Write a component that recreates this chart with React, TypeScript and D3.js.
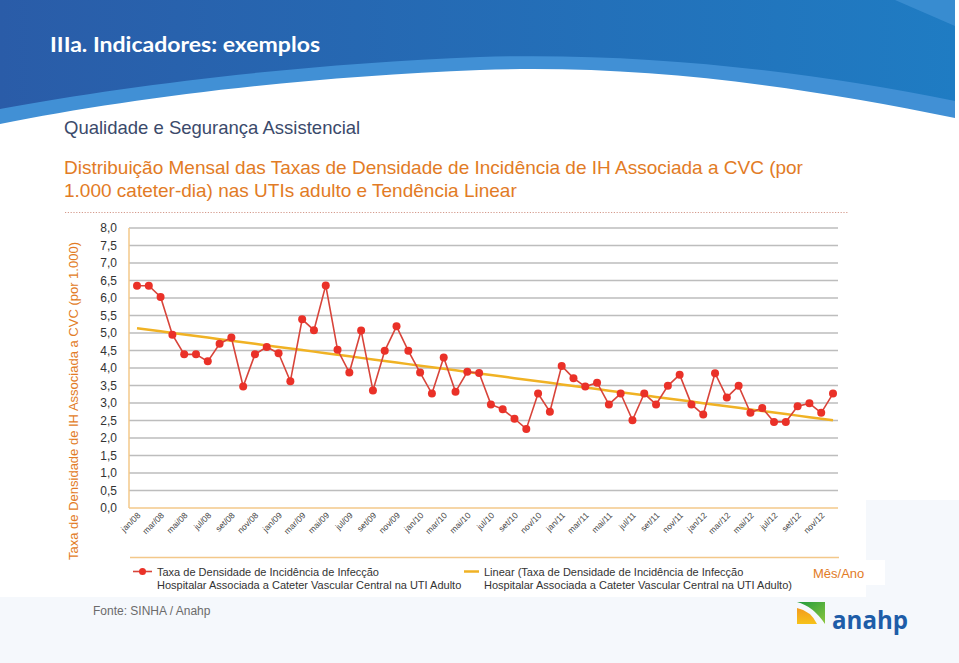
import React, { useRef, useEffect } from 'react'
import * as d3 from 'd3'

const monthNames = ['jan', 'fev', 'mar', 'abr', 'mai', 'jun', 'jul', 'ago', 'set', 'out', 'nov', 'dez']
const years = ['08', '09', '10', '11', '12']
const months: string[] = years.flatMap(y => monthNames.map(m => `${m}/${y}`))

// taxa mensal (por 1.000 cateter-dia), jan/08 .. dez/12
const rates = [
  6.35, 6.35, 6.03, 4.95, 4.39, 4.39, 4.19, 4.69, 4.87, 3.47, 4.39, 4.6,
  4.42, 3.62, 5.39, 5.08, 6.36, 4.52, 3.87, 5.07, 3.36, 4.49, 5.19, 4.49,
  3.87, 3.27, 4.3, 3.32, 3.89, 3.86, 2.96, 2.82, 2.55, 2.26, 3.27, 2.75,
  4.06, 3.71, 3.47, 3.58, 2.96, 3.27, 2.51, 3.27, 2.96, 3.49, 3.81, 2.96,
  2.67, 3.85, 3.16, 3.49, 2.72, 2.86, 2.46, 2.46, 2.91, 2.99, 2.72, 3.27
]

const yTicks = d3.range(0, 8.01, 0.5)
const xTickLabels = months.filter((_, i) => i % 2 === 0)

const seriesName = ['Taxa de Densidade de Incidência de Infecção', 'Hospitalar Associada a Cateter Vascular Central na UTI Adulto']
const trendName = ['Linear (Taxa de Densidade de Incidência de Infecção', 'Hospitalar Associada a Cateter Vascular Central na UTI Adulto)']

const W = 959
const H = 663
const SANS = '"Liberation Sans", Arial, sans-serif'
const ORANGE = '#e27b25'

const App: React.FC = () => {
  const svgRef = useRef<SVGSVGElement>(null)

  useEffect(() => {
    if (!svgRef.current) return
    const svg = d3.select(svgRef.current)
    svg.selectAll('*').remove()

    // fundo
    svg.append('rect').attr('width', W).attr('height', H).attr('fill', '#ffffff')
    svg.append('rect').attr('x', 0).attr('y', 597).attr('width', W).attr('height', H - 597).attr('fill', '#f5f8fc')
    svg.append('rect').attr('x', 866).attr('y', 500).attr('width', W - 866).attr('height', 97).attr('fill', '#f5f8fc')

    // cabeçalho azul
    const defs = svg.append('defs')
    const g1 = defs.append('linearGradient').attr('id', 'hdr').attr('x1', '0%').attr('x2', '100%')
    g1.append('stop').attr('offset', '0%').attr('stop-color', '#2a5ca8')
    g1.append('stop').attr('offset', '100%').attr('stop-color', '#1f7cc3')

    svg.append('path')
      .attr('d', 'M0,0 H955 V118 C 800,86 640,64 480,70 C 300,77 130,98 0,124 Z')
      .attr('fill', '#4190d5')
    svg.append('path')
      .attr('d', 'M0,0 H955 V101 C 800,70 640,52 480,57 C 300,64 130,85 0,109 Z')
      .attr('fill', 'url(#hdr)')
    svg.append('path')
      .attr('d', 'M895,0 L955,0 L955,26 Z')
      .attr('fill', '#4a97d8').attr('opacity', 0.6)

    svg.append('text')
      .attr('x', 50).attr('y', 52)
      .attr('font-family', 'Lato, "Open Sans", sans-serif')
      .attr('font-weight', 'bold').attr('font-size', 21)
      .attr('textLength', 270).attr('lengthAdjust', 'spacingAndGlyphs')
      .attr('fill', '#ffffff')
      .text('IIIa. Indicadores: exemplos')

    svg.append('text')
      .attr('x', 64).attr('y', 134)
      .attr('font-family', SANS).attr('font-size', 18.5)
      .attr('fill', '#3b4a6b')
      .text('Qualidade e Segurança Assistencial')

    const sub = svg.append('text')
      .attr('font-family', SANS).attr('font-size', 19)
      .attr('fill', ORANGE)
    sub.append('tspan').attr('x', 64).attr('y', 174)
      .text('Distribuição Mensal das Taxas de Densidade de Incidência de IH Associada a CVC (por')
    sub.append('tspan').attr('x', 64).attr('y', 197)
      .text('1.000 cateter-dia) nas UTIs adulto e Tendência Linear')

    svg.append('line')
      .attr('x1', 65).attr('x2', 849).attr('y1', 212.5).attr('y2', 212.5)
      .attr('stroke', '#d49a8c').attr('stroke-width', 1.2)
      .attr('stroke-dasharray', '1.2,1.6')

    // escalas
    const plotLeft = 129
    const plotRight = 838
    const x = d3.scalePoint<string>().domain(months).range([137, 833])
    const y = d3.scaleLinear().domain([0, 8]).range([508, 228])

    // grade
    svg.append('g').selectAll('line')
      .data(yTicks.filter(t => t > 0))
      .enter().append('line')
      .attr('x1', plotLeft).attr('x2', plotRight)
      .attr('y1', d => y(d)).attr('y2', d => y(d))
      .attr('stroke', '#bdbdbd').attr('stroke-width', 1.5)

    // eixos
    svg.append('line')
      .attr('x1', plotLeft).attr('x2', plotLeft).attr('y1', y(8)).attr('y2', y(0))
      .attr('stroke', '#f3c88a').attr('stroke-width', 1.5)
    svg.append('line')
      .attr('x1', plotLeft).attr('x2', plotRight).attr('y1', y(0)).attr('y2', y(0))
      .attr('stroke', '#f3c88a').attr('stroke-width', 1.5)

    svg.append('g').selectAll('text')
      .data(yTicks)
      .enter().append('text')
      .attr('x', 117).attr('y', d => y(d))
      .attr('dy', '0.36em')
      .attr('text-anchor', 'end')
      .attr('font-family', SANS).attr('font-size', 12)
      .attr('fill', '#333333')
      .text(d => d3.format('.1f')(d).replace('.', ','))

    svg.append('g').selectAll('text')
      .data(xTickLabels)
      .enter().append('text')
      .attr('transform', d => `translate(${x(d)! + 4},${516}) rotate(-45)`)
      .attr('text-anchor', 'end')
      .attr('font-family', SANS).attr('font-size', 8.5)
      .attr('fill', '#444444')
      .text(d => d)

    svg.append('text')
      .attr('transform', `translate(78,401) rotate(-90)`)
      .attr('text-anchor', 'middle')
      .attr('font-family', SANS).attr('font-size', 13)
      .attr('fill', ORANGE)
      .text('Taxa de Densidade de IH Associada a CVC (por 1.000)')

    // tendência linear (mínimos quadrados)
    const idx = rates.map((_, i) => i)
    const mx = d3.mean(idx)!
    const my = d3.mean(rates)!
    const slope = d3.sum(idx, i => (i - mx) * (rates[i] - my)) / d3.sum(idx, i => (i - mx) ** 2)
    const intercept = my - slope * mx
    const trend = idx.map(i => intercept + slope * i)

    svg.append('path')
      .datum(months)
      .attr('d', d3.line<string>().x(d => x(d)!).y((_, i) => y(trend[i])))
      .attr('fill', 'none')
      .attr('stroke', '#f0b224').attr('stroke-width', 2.5)

    // série mensal
    svg.append('path')
      .datum(rates)
      .attr('d', d3.line<number>().x((_, i) => x(months[i])!).y(d => y(d)))
      .attr('fill', 'none')
      .attr('stroke', '#d8443a').attr('stroke-width', 1.6)

    svg.append('g').selectAll('circle')
      .data(rates)
      .enter().append('circle')
      .attr('cx', (_, i) => x(months[i])!)
      .attr('cy', d => y(d))
      .attr('r', 4)
      .attr('fill', '#ea3128')

    // legenda
    svg.append('line')
      .attr('x1', 130).attr('x2', 839).attr('y1', 557.5).attr('y2', 557.5)
      .attr('stroke', '#f3c88a').attr('stroke-width', 1.5)

    svg.append('line')
      .attr('x1', 133).attr('x2', 152).attr('y1', 571.5).attr('y2', 571.5)
      .attr('stroke', '#d8443a').attr('stroke-width', 1.6)
    svg.append('circle').attr('cx', 142.5).attr('cy', 571.5).attr('r', 3.5).attr('fill', '#ea3128')

    const lg1 = svg.append('text').attr('font-family', SANS).attr('font-size', 11).attr('fill', '#333333')
    seriesName.forEach((t, i) => {
      lg1.append('tspan').attr('x', 157).attr('y', 575.5 + i * 13.5).text(t)
    })

    svg.append('line')
      .attr('x1', 464).attr('x2', 479).attr('y1', 571.5).attr('y2', 571.5)
      .attr('stroke', '#f0b224').attr('stroke-width', 2.5)
    const lg2 = svg.append('text').attr('font-family', SANS).attr('font-size', 11).attr('fill', '#333333')
    trendName.forEach((t, i) => {
      lg2.append('tspan').attr('x', 484).attr('y', 575.5 + i * 13.5).text(t)
    })

    svg.append('rect').attr('x', 795).attr('y', 560).attr('width', 90).attr('height', 25).attr('fill', '#ffffff')
    svg.append('text')
      .attr('x', 813).attr('y', 578)
      .attr('font-family', SANS).attr('font-size', 13)
      .attr('fill', ORANGE)
      .text('Mês/Ano')

    svg.append('text')
      .attr('x', 93).attr('y', 615)
      .attr('font-family', SANS).attr('font-size', 12)
      .attr('fill', '#6b6b6b')
      .text('Fonte: SINHA / Anahp')

    // logo anahp
    const lgGrad = defs.append('linearGradient').attr('id', 'lgG').attr('x1', '0%').attr('y1', '0%').attr('x2', '100%').attr('y2', '100%')
    lgGrad.append('stop').attr('offset', '0%').attr('stop-color', '#1f9a3c')
    lgGrad.append('stop').attr('offset', '100%').attr('stop-color', '#8cc63f')
    const orGrad = defs.append('linearGradient').attr('id', 'lgO').attr('x1', '0%').attr('y1', '0%').attr('x2', '0%').attr('y2', '100%')
    orGrad.append('stop').attr('offset', '0%').attr('stop-color', '#f39a1e')
    orGrad.append('stop').attr('offset', '100%').attr('stop-color', '#f6c21a')

    svg.append('path')
      .attr('d', 'M797,602 L825,602 L825,624 Q813,606 797,602 Z')
      .attr('fill', 'url(#lgG)')
    svg.append('path')
      .attr('d', 'M797,608 Q811,611 817,624 L797,624 Z')
      .attr('fill', 'url(#lgO)')
    svg.append('text')
      .attr('x', 832).attr('y', 629)
      .attr('font-family', '"Open Sans", sans-serif')
      .attr('font-weight', 'bold').attr('font-size', 25)
      .attr('textLength', 76).attr('lengthAdjust', 'spacingAndGlyphs')
      .attr('fill', '#1e5da8')
      .text('anahp')
  }, [])

  return (
    <svg
      ref={svgRef}
      width={W}
      height={H}
      style={{ position: 'absolute', left: 0, top: 0, display: 'block' }}
    />
  )
}

export default App
